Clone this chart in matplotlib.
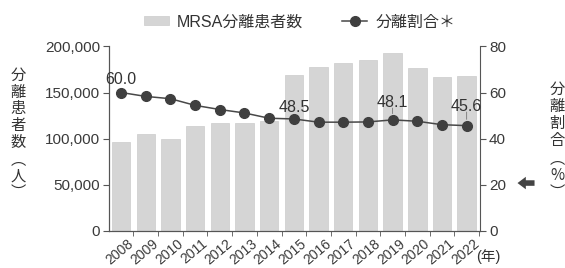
import matplotlib.pyplot as plt
import numpy as np

plt.rcParams['font.family'] = ['Liberation Sans', 'Noto Sans CJK JP', 'DejaVu Sans']

# データ
years = ['2008', '2009', '2010', '2011', '2012', '2013', '2014', '2015',
         '2016', '2017', '2018', '2019', '2020', '2021', '2022']
patients = [95900, 104600, 99500, 113900, 116500, 117200, 119300, 169300,
            177400, 181700, 185300, 192600, 176300, 167200, 168300]
ratio = [60.0, 58.3, 57.3, 54.4, 52.6, 51.1, 48.8, 48.5,
         47.1, 47.1, 47.2, 48.1, 47.5, 46.0, 45.6]
# 数値を表示する年: (表示文字, 点からの距離pt)
labeled = {0: ('60.0', 6.3), 7: ('48.5', 4.8), 11: ('48.1', 9.5), 14: ('45.6', 10.8)}

tick_c = '#3a3a3a'
spine_c = '#555555'
x = np.arange(len(years))

fig = plt.figure(figsize=(5.65, 2.68), dpi=100)
ax = fig.add_axes([0.1929, 0.1399, 0.6566, 0.6866])
ax2 = ax.twinx()

bars = ax.bar(x, patients, width=0.75, color='#d5d5d5', edgecolor='#cbcbcb',
              linewidth=0.5, label='MRSA分離患者数', zorder=1)
line, = ax2.plot(x, ratio, color='#484848', linewidth=1.1, marker='o',
                 markersize=7, markerfacecolor='#3f3f3f', markeredgecolor='#3f3f3f',
                 label='分離割合＊')

ax.set_xlim(-0.49, 14.54)
ax.set_ylim(0, 200000)
ax2.set_ylim(0, 80)
ax.set_yticks([0, 50000, 100000, 150000, 200000])
ax.set_yticklabels(['0', '50,000', '100,000', '150,000', '200,000'])
ax2.set_yticks([0, 20, 40, 60, 80])

# 目盛りは棒の間、年ラベルは少し右寄せ
ax.set_xticks(x + 0.25)
ax.set_xticklabels(years, rotation=40, ha='right', va='top',
                   rotation_mode='anchor')
ax.set_xticks(x + 0.5, minor=True)
ax.tick_params(axis='x', which='major', length=0, pad=4.5, labelsize=10,
               colors=tick_c)
ax.tick_params(axis='x', which='minor', length=3.5, color=spine_c)
ax.tick_params(axis='y', length=4, pad=2.5, labelsize=11, colors=tick_c, color=spine_c)
ax2.tick_params(axis='y', length=4, pad=2.5, labelsize=11, colors=tick_c, color=spine_c)

for a in (ax, ax2):
    a.spines['top'].set_visible(False)
    for s in ('left', 'right', 'bottom'):
        a.spines[s].set_color(spine_c)
        a.spines[s].set_linewidth(0.8)
ax.spines['right'].set_visible(False)

# 数値ラベル
for i, (t, off) in labeled.items():
    ax2.annotate(t, (x[i], ratio[i]), xytext=(0, off), textcoords='offset points',
                 ha='center', va='baseline', fontsize=11.5, color='#333333')
    if off > 8:
        ax2.annotate('', xy=(x[i], ratio[i]), xytext=(0, off - 1),
                     textcoords='offset points',
                     arrowprops=dict(arrowstyle='-', color='#777777', lw=0.6,
                                     shrinkA=0, shrinkB=4.5))

# 縦書きの軸ラベル
fig.text(0.032, 0.50, '分\n離\n患\n者\n数\n︵\n人\n︶', ha='center', va='center',
         fontsize=11, color='#333333', linespacing=0.98,
         family=['Noto Sans CJK JP'])
fig.text(0.986, 0.474, '分\n離\n割\n合\n︵\n%\n︶', ha='center', va='center',
         fontsize=11, color='#333333', linespacing=1.02,
         family=['Noto Sans CJK JP', 'Liberation Sans'])
fig.text(0.843, 0.041, '(年)', ha='left', va='center', fontsize=10.5,
         color='#333333')

# 矢印
ax2.annotate('', xy=(0.911, 0.317), xytext=(0.951, 0.317),
             xycoords='figure fraction', textcoords='figure fraction',
             arrowprops=dict(arrowstyle='simple,head_width=0.9,head_length=0.6,tail_width=0.4',
                             mutation_scale=10, color='#444444', lw=0))

fig.legend(handles=[bars, line], loc='center', bbox_to_anchor=(0.53, 0.918),
           ncol=2, frameon=False, fontsize=11.5, handlelength=1.6,
           handleheight=0.5, columnspacing=2.4, handletextpad=0.5,
           labelcolor='#333333')

fig.savefig('out.png', dpi=100)
